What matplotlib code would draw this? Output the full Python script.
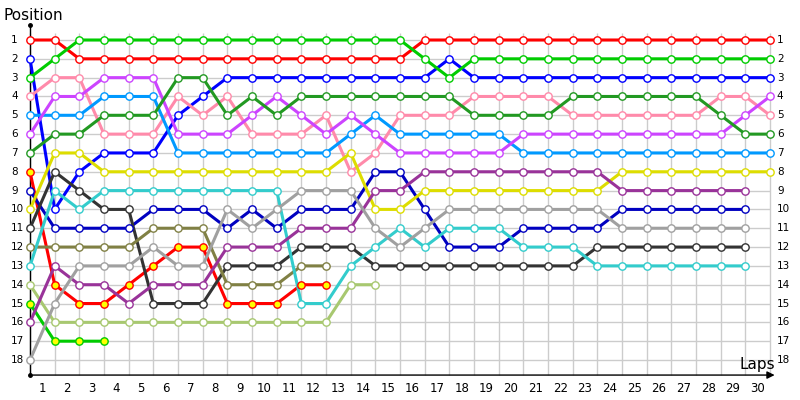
import matplotlib
matplotlib.use('Agg')
import matplotlib.pyplot as plt

# positions per lap (lap 0 = grid)
red_1 = [1, 1] + [2] * 14 + [1] * 15
blue_2 = [2, 10, 8, 7, 7, 7, 5, 4] + [3] * 9 + [2] + [3] * 13
green_3 = [3, 2] + [1] * 14 + [2, 3] + [2] * 13
pink_4 = [4, 3, 3, 6, 6, 6, 4, 5, 4, 6, 6, 6, 5, 8, 7, 5, 5, 5, 4, 4, 4, 4, 5, 5, 5, 5, 5, 5, 4, 4, 5]
azure_5 = [5, 5, 5, 4, 4, 4] + [7] * 7 + [6, 5] + [6] * 5 + [7] * 11
violet_6 = [6, 4, 4, 3, 3, 3, 6, 6, 6, 5, 4, 5, 6, 5, 6] + [7] * 5 + [6] * 9 + [5, 4]
dkgreen_7 = [7, 6, 6, 5, 5, 5, 3, 3, 5, 4, 5] + [4] * 7 + [5] * 4 + [4] * 6 + [5, 6, 6]
red_8 = [8, 14, 15, 15, 14, 13, 12, 12, 15, 15, 15, 14, 14]
navy_9 = [9, 11, 11, 11, 11, 10, 10, 10, 11, 10, 11, 10, 10, 10, 8, 8, 10, 12, 12, 12, 11, 11, 11, 11] + [10] * 6
yellow_10 = [10, 7, 7] + [8] * 10 + [7, 10, 10] + [9] * 8 + [8] * 7
dkgray_11 = [11, 8, 9, 10, 10, 15, 15, 15, 13, 13, 13, 12, 12, 12] + [13] * 9 + [12] * 7
olive_12 = [12, 12, 12, 12, 12, 11, 11, 11, 14, 14, 14, 13, 13]
cyan_13 = [13, 9, 10] + [9] * 8 + [15, 15, 13, 12, 11, 12, 11, 11, 11, 12, 12, 12] + [13] * 7
ltgreen_14 = [14] + [16] * 12 + [14, 14]
lime_15 = [15, 17, 17, 17]
purple_16 = [16, 13, 14, 14, 15, 14, 14, 14, 12, 12, 12, 11, 11, 11, 9, 9] + [8] * 8 + [9] * 6
gray_18 = [18, 15, 13, 13, 13, 12, 13, 13, 10, 11, 10, 9, 9, 9, 11, 12, 11] + [10] * 7 + [11] * 6

drivers = [
    (red_1, '#ff0000', 'white'),
    (blue_2, '#0000ff', 'white'),
    (green_3, '#00cc00', 'white'),
    (pink_4, '#ff8aaa', 'white'),
    (azure_5, '#0099ff', 'white'),
    (violet_6, '#cc44ff', 'white'),
    (dkgreen_7, '#229922', 'white'),
    (red_8, '#ff0000', '#ffff00'),
    (navy_9, '#0000c0', 'white'),
    (yellow_10, '#dddd00', 'white'),
    (dkgray_11, '#333333', 'white'),
    (olive_12, '#808044', 'white'),
    (cyan_13, '#33cccc', 'white'),
    (ltgreen_14, '#a8c870', 'white'),
    (lime_15, '#00cc00', '#ffff00'),
    (purple_16, '#993399', 'white'),
    (gray_18, '#a0a0a0', 'white'),
]

n_laps = 30
n_pos = 18

fig = plt.figure(figsize=(8, 4), dpi=100)
ax = fig.add_axes([0, 0, 1, 1])
ax.set_xlim(-30 / 24.667, 770 / 24.667)
ax.set_ylim(1 + 360 / 18.824, 1 - 40 / 18.824)
ax.axis('off')

# grid
ax.vlines(range(n_laps + 1), 0.63, 18.8, color='#cccccc', lw=1, zorder=1)
ax.hlines(range(1, n_pos + 1), 0, n_laps, color='#cccccc', lw=1, zorder=1)

# axes lines
ax.plot([0, 0], [0.2, 18.8], color='black', lw=1, zorder=2)
ax.plot([0, 0], [0.2, 18.8], 'o', color='black', ms=2.5, zorder=2)
ax.annotate('', xy=(30.3, 18.8), xytext=(0, 18.8),
            arrowprops=dict(arrowstyle='-|>', color='black', lw=1, mutation_scale=11))

for pos, col, fill in drivers:
    laps = list(range(len(pos)))
    ax.plot(laps, pos, '-', color=col, lw=2.2, zorder=3)
    ax.plot(laps, pos, 'o', color=col, mfc=fill, mec=col, ms=5.3, mew=1, zorder=4)

for p in range(1, n_pos + 1):
    ax.text(-0.77, p, str(p), ha='left', va='center', fontsize=7.5)
    ax.text(30.28, p, str(p), ha='left', va='center', fontsize=7.5)

for k in range(1, n_laps + 1):
    ax.text(k - 0.5, 19.49, str(k), ha='center', va='center', fontsize=8.5)

ax.text(-1.06, -0.3, 'Position', ha='left', va='center', fontsize=11)
ax.text(29.5, 18.22, 'Laps', ha='center', va='center', fontsize=11)

fig.savefig('out.png', dpi=100)
